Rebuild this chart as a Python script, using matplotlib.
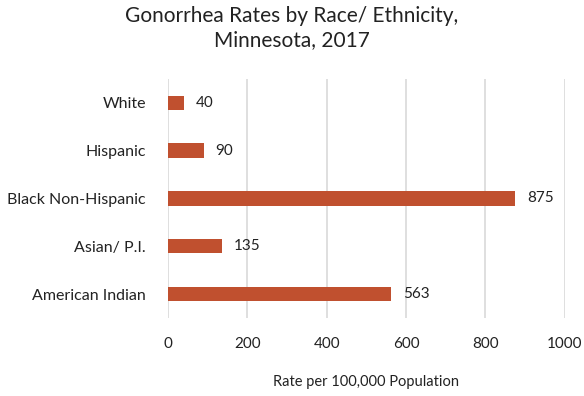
import matplotlib
matplotlib.use("Agg")
import matplotlib.pyplot as plt

# data, top to bottom as shown
groups = ["White", "Hispanic", "Black Non-Hispanic", "Asian/ P.I.", "American Indian"]
rates = [40, 90, 875, 135, 563]
xticks = [0, 200, 400, 600, 800, 1000]

plt.rcParams['font.family'] = ['Lato', 'DejaVu Sans']

def make_plot():
	fig = plt.figure(figsize=(5.84, 3.96), dpi=100)
	ax = fig.add_axes([0.2877, 0.197, 0.679, 0.604])
	pos = list(range(len(groups)))[::-1]
	ax.barh(pos, rates, height=0.3, color='#C0502F', zorder=3)
	for p, r in zip(pos, rates):
		ax.text(r + 30, p, str(r), va='center', ha='left', fontsize=11, color='#222222')
	ax.set_yticks(pos)
	ax.set_yticklabels(groups, fontsize=11.5, color='#222222')
	ax.set_xticks(xticks)
	ax.set_xticklabels([str(t) for t in xticks], fontsize=11, color='#222222')
	ax.set_xlim(0, 1000)
	ax.set_ylim(-0.5, 4.5)
	ax.xaxis.grid(True, color='#d9d9d9', linewidth=1.2, zorder=0)
	ax.tick_params(axis='both', length=0)
	ax.tick_params(axis='x', pad=14)
	ax.tick_params(axis='y', pad=16)
	for s in ax.spines.values():
		s.set_visible(False)
	ax.set_xlabel('Rate per 100,000 Population', fontsize=10.5, color='#222222', labelpad=17)
	fig.suptitle('Gonorrhea Rates by Race/ Ethnicity,\nMinnesota, 2017', fontsize=15,
		y=0.985, color='#222222', linespacing=1.25)
	fig.savefig('out.png', dpi=100)

if __name__ == "__main__":
	make_plot()
